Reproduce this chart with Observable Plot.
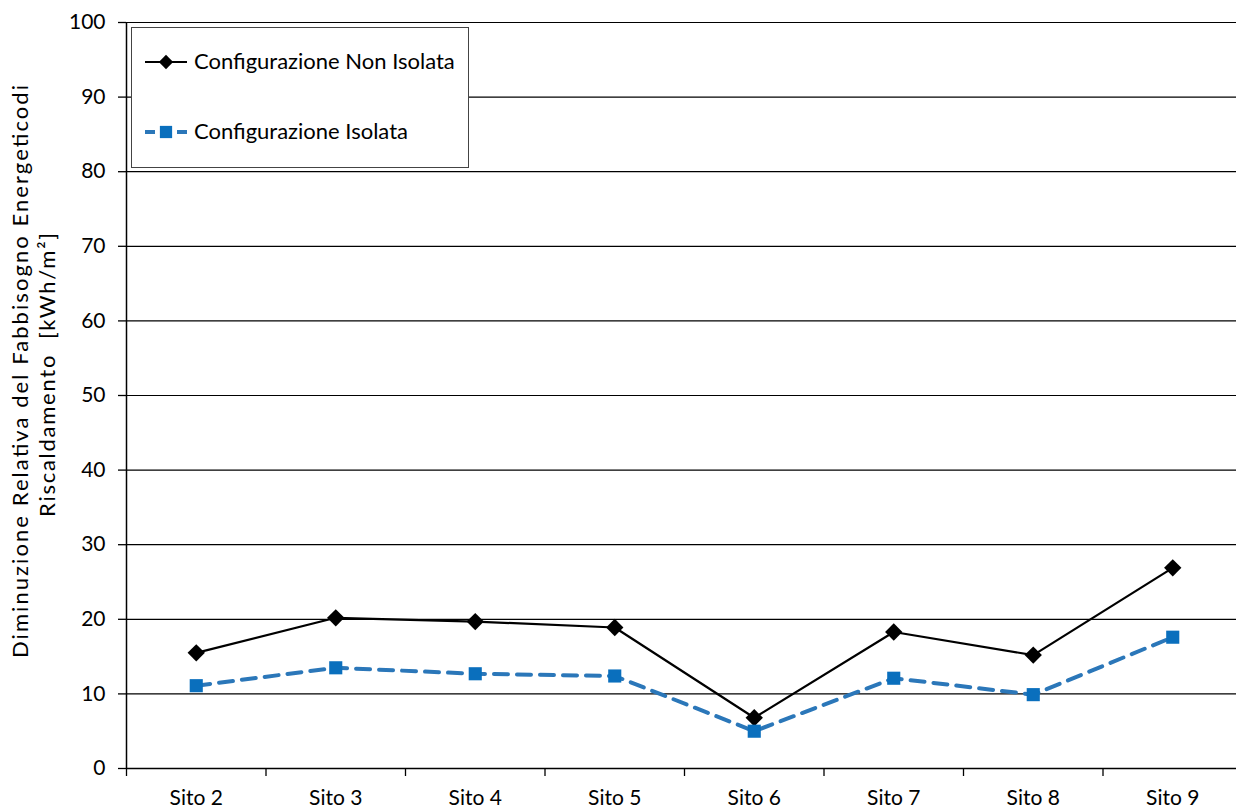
<!DOCTYPE html>
<html>
<head>
<meta charset="utf-8">
<script src="https://cdn.jsdelivr.net/npm/d3@7"></script>
<script src="https://cdn.jsdelivr.net/npm/@observablehq/plot@0.6"></script>
<style>
  html, body { margin: 0; padding: 0; background: #fff; overflow: hidden; }
  #wrap { position: relative; width: 1236px; height: 810px; overflow: hidden; background: #fff; }
  #chart svg { max-width: none !important; height: 810px !important; display: block; }
  #legend { position: absolute; left: 131px; top: 27px; width: 336px; height: 139px;
            border: 1.5px solid #444; background: #fff; }
</style>
</head>
<body>
<div id="wrap">
  <div id="chart"></div>
  <div id="legend"></div>
</div>
<script>
const categories = ["Sito 2", "Sito 3", "Sito 4", "Sito 5", "Sito 6", "Sito 7", "Sito 8", "Sito 9"];
const nonIsolata = [15.5, 20.2, 19.7, 18.9, 6.8, 18.3, 15.2, 26.9];
const isolata = [11.1, 13.5, 12.7, 12.4, 5.0, 12.1, 9.9, 17.6];
const yTicks = [0, 10, 20, 30, 40, 50, 60, 70, 80, 90, 100];
const seriesNames = ["Configurazione Non Isolata", "Configurazione Isolata"];
const titleLines = ["Diminuzione Relativa del Fabbisogno Energeticodi", "Riscaldamento  [kWh/m\u00B2]"];

const blackData = nonIsolata.map((v, i) => ({i, v}));
const blueData = isolata.map((v, i) => ({i, v}));
const boundaries = d3.range(-0.5, categories.length, 1);
const centers = d3.range(categories.length);

const BLUE_LINE = "#2b77b9";
const BLUE_MARK = "#0a6fbd";

const plot = Plot.plot({
  width: 1242,
  height: 810,
  marginLeft: 126,
  marginRight: 0,
  marginTop: 22,
  marginBottom: 42,
  style: { fontFamily: "Lato, 'Open Sans', sans-serif", fontSize: "21px", color: "#000", background: "white", overflow: "visible", maxWidth: "none" },
  x: { type: "linear", domain: [-0.5, categories.length - 0.5] },
  y: { domain: [0, 100] },
  marks: [
    Plot.ruleY(yTicks.filter(d => d > 0), { stroke: "#000", strokeWidth: 1.2 }),
    Plot.ruleY([0], { stroke: "#000", strokeWidth: 1.5 }),
    Plot.ruleX([-0.5], { y1: 0, y2: 100, stroke: "#000", strokeWidth: 1.5 }),
    Plot.axisY({ ticks: yTicks, tickSize: 8, tickPadding: 13, fontSize: 21, label: null, strokeWidth: 1.3 }),
    Plot.axisX({ ticks: boundaries, tickFormat: () => "", tickSize: 8, label: null, strokeWidth: 1.3 }),
    Plot.axisX({ ticks: centers, tickFormat: i => categories[i], tickSize: 0, tickPadding: 22, fontSize: 21, label: null }),
    Plot.line(blackData, { x: "i", y: "v", stroke: "#000", strokeWidth: 2.2 }),
    Plot.dot(blackData, { x: "i", y: "v", symbol: "diamond2", r: 7.8, fill: "#000", stroke: "none" }),
    Plot.line(blueData, { x: "i", y: "v", stroke: BLUE_LINE, strokeWidth: 4, strokeDasharray: "14,9" }),
    Plot.dot(blueData, { x: "i", y: "v", symbol: "square", r: 7.4, fill: BLUE_MARK, stroke: "none" })
  ]
});
document.getElementById("chart").appendChild(plot);

// Y axis title (two rotated lines)
const svg = d3.select(plot);
const tg = svg.append("g").attr("font-family", "Lato, 'Open Sans', sans-serif").attr("font-size", 22).attr("fill", "#000");
tg.append("text").attr("transform", "translate(28,371.5) rotate(-90)").attr("text-anchor", "middle")
  .attr("textLength", 573).attr("lengthAdjust", "spacing").text(titleLines[0]);
tg.append("text").attr("transform", "translate(55,375) rotate(-90)").attr("text-anchor", "middle")
  .attr("textLength", 284).attr("lengthAdjust", "spacing").text(titleLines[1]);

// Legend
const lg = d3.select("#legend").append("svg").attr("width", 336).attr("height", 139)
  .style("display", "block").attr("font-family", "Lato, 'Open Sans', sans-serif");
// entry 1
lg.append("line").attr("x1", 13).attr("x2", 55).attr("y1", 34).attr("y2", 34).attr("stroke", "#000").attr("stroke-width", 2.2);
lg.append("path").attr("d", d3.symbol(d3.symbolDiamond2, 130)()).attr("transform", "translate(34,34)").attr("fill", "#000");
lg.append("text").attr("x", 62).attr("y", 41).attr("font-size", 22).text(seriesNames[0]);
// entry 2
lg.append("line").attr("x1", 13).attr("x2", 55).attr("y1", 104).attr("y2", 104).attr("stroke", BLUE_LINE).attr("stroke-width", 4).attr("stroke-dasharray", "10,5,12,5,10");
lg.append("path").attr("d", d3.symbol(d3.symbolSquare, 150)()).attr("transform", "translate(34,104)").attr("fill", BLUE_MARK);
lg.append("text").attr("x", 62).attr("y", 111).attr("font-size", 22).text(seriesNames[1]);
</script>
</body>
</html>
